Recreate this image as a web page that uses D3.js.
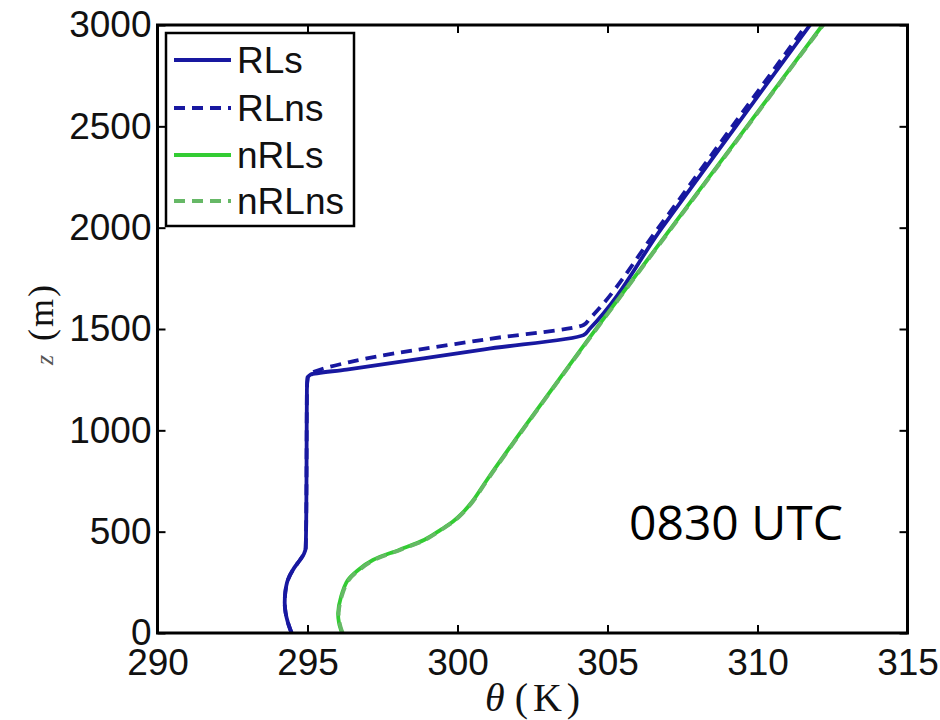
<!DOCTYPE html>
<html>
<head>
<meta charset="utf-8">
<script src="https://cdn.jsdelivr.net/npm/d3@7"></script>
<style>
  html, body { margin: 0; padding: 0; background: #ffffff; }
  svg { display: block; }
</style>
</head>
<body>
<svg id="chart" width="940" height="720"></svg>
<script>
// ---- Data ----
const seriesNames = ["RLs", "RLns", "nRLs", "nRLns"];

const zRLs     = [0, 50, 100, 150, 200, 260, 320, 360, 390, 420, 600, 900, 1200, 1260, 1275, 1300, 1400, 1470, 1500, 2000, 2500, 3000];
const thetaRLs = [294.47, 294.35, 294.27, 294.24, 294.26, 294.34, 294.55, 294.75, 294.88, 294.94, 294.96, 294.97, 294.98, 295.01, 295.1, 296.3, 300.9, 304.2, 304.4, 306.82, 309.28, 311.75];

const zRLns     = [0, 50, 100, 150, 200, 260, 320, 360, 390, 420, 600, 900, 1200, 1260, 1280, 1337, 1450, 1520, 1550, 2000, 2500, 3000];
const thetaRLns = [294.47, 294.35, 294.27, 294.24, 294.26, 294.34, 294.55, 294.75, 294.88, 294.94, 294.96, 294.97, 294.98, 295.0, 295.1, 296.4, 301.0, 304.2, 304.4, 306.7, 309.16, 311.63];

const zNRLs     = [0, 50, 100, 180, 260, 310, 360, 410, 460, 510, 550, 590, 650, 755, 1000, 1445, 2000, 2500, 3000];
const thetaNRLs = [296.15, 296.05, 296.02, 296.12, 296.34, 296.68, 297.18, 298.05, 298.9, 299.45, 299.85, 300.15, 300.5, 300.98, 302.15, 304.34, 307.13, 309.65, 312.17];

const zNRLns     = [0, 50, 100, 180, 260, 310, 360, 410, 460, 510, 550, 590, 650, 755, 1000, 1445, 2000, 2500, 3000];
const thetaNRLns = [296.17, 296.07, 296.04, 296.14, 296.37, 296.72, 297.22, 298.09, 298.93, 299.47, 299.87, 300.17, 300.52, 301.0, 302.17, 304.36, 307.15, 309.67, 312.19];

const xTicks = [290, 295, 300, 305, 310, 315];
const yTicks = [0, 500, 1000, 1500, 2000, 2500, 3000];
const annotation = "0830 UTC";

// ---- Layout ----
const svg = d3.select("#chart");
const L = 157.5, R = 907.5, T = 25, B = 633;
const x = d3.scaleLinear().domain([290, 315]).range([L, R]);
const y = d3.scaleLinear().domain([0, 3000]).range([B, T]);

const blue = "#1818a0";
const green = "#33cc33";
const greenDash = "#66b866";

const series = [
  { name: seriesNames[0], z: zRLs,  t: thetaRLs,  color: blue,      dash: null,  curve: d3.curveMonotoneY },
  { name: seriesNames[1], z: zRLns, t: thetaRLns, color: blue,      dash: "11,7", curve: d3.curveMonotoneY },
  { name: seriesNames[2], z: zNRLs, t: thetaNRLs, color: green,     dash: null,  curve: d3.curveCatmullRom.alpha(0.5) },
  { name: seriesNames[3], z: zNRLns,t: thetaNRLns,color: greenDash, dash: "11,7", curve: d3.curveCatmullRom.alpha(0.5) }
];

svg.append("defs").append("clipPath").attr("id", "clip")
  .append("rect").attr("x", L).attr("y", T - 2).attr("width", R - L).attr("height", B - T + 2);

const plot = svg.append("g").attr("clip-path", "url(#clip)");
series.forEach(s => {
  const pts = s.z.map((z, i) => [s.t[i], z]);
  const line = d3.line().x(d => x(d[0])).y(d => y(d[1])).curve(s.curve);
  plot.append("path")
    .datum(pts)
    .attr("d", line)
    .attr("fill", "none")
    .attr("stroke", s.color)
    .attr("stroke-width", 3.8)
    .attr("stroke-dasharray", s.dash)
    .attr("stroke-linejoin", "round");
});

// ---- Axes (MATLAB box style, inward ticks on all sides) ----
const tickLen = 8;
const axisFont = "'Liberation Sans', Arial, sans-serif";

const xAxisB = d3.axisBottom(x).tickValues(xTicks).tickSizeInner(-tickLen).tickSizeOuter(0).tickFormat(d3.format("d"));
const xAxisT = d3.axisTop(x).tickValues(xTicks).tickSizeInner(-tickLen).tickSizeOuter(0).tickFormat("");
const yAxisL = d3.axisLeft(y).tickValues(yTicks).tickSizeInner(-tickLen).tickSizeOuter(0).tickFormat(d3.format("d"));
const yAxisR = d3.axisRight(y).tickValues(yTicks).tickSizeInner(-tickLen).tickSizeOuter(0).tickFormat("");

function styleAxis(g) {
  g.select(".domain").remove();
  g.selectAll(".tick line").attr("stroke", "#000").attr("stroke-width", 2);
  g.selectAll(".tick text").attr("fill", "#111").attr("font-family", axisFont).attr("font-size", 37);
}

const gxb = svg.append("g").attr("transform", `translate(0,${B})`).call(xAxisB).call(styleAxis);
gxb.selectAll(".tick text").attr("y", 42).attr("dy", 0);
svg.append("g").attr("transform", `translate(0,${T})`).call(xAxisT).call(styleAxis);
const gyl = svg.append("g").attr("transform", `translate(${L},0)`).call(yAxisL).call(styleAxis);
gyl.selectAll(".tick text").attr("x", -6).attr("dy", "0.32em");
svg.append("g").attr("transform", `translate(${R},0)`).call(yAxisR).call(styleAxis);

svg.append("rect")
  .attr("x", L).attr("y", T).attr("width", R - L).attr("height", B - T)
  .attr("fill", "none").attr("stroke", "#000").attr("stroke-width", 3);

// ---- Axis labels ----
const xl = svg.append("text")
  .attr("x", 485).attr("y", 711)
  .attr("text-anchor", "start")
  .attr("font-family", "'Liberation Serif', 'Times New Roman', serif")
  .attr("font-size", 40)
  .attr("fill", "#111");
xl.append("tspan").attr("font-style", "italic").text("θ");
xl.append("tspan").attr("dx", 10).attr("letter-spacing", 5).text("(K)");

const yl = svg.append("text")
  .attr("transform", "translate(53,324) rotate(-90)")
  .attr("text-anchor", "middle")
  .attr("font-family", "'Liberation Serif', 'Times New Roman', serif")
  .attr("font-size", 36)
  .attr("fill", "#111");
yl.append("tspan").attr("font-style", "italic").attr("font-size", 26).attr("fill", "#555").text("z");
yl.append("tspan").attr("dx", 14).attr("letter-spacing", 2).text("(m)");

// ---- Legend ----
const lg = svg.append("g");
lg.append("rect")
  .attr("x", 166).attr("y", 33).attr("width", 188).attr("height", 193)
  .attr("fill", "#fff").attr("stroke", "#000").attr("stroke-width", 2.5);
const legY = [60, 108, 155, 201];
series.forEach((s, i) => {
  lg.append("line")
    .attr("x1", 174).attr("x2", 231).attr("y1", legY[i]).attr("y2", legY[i])
    .attr("stroke", s.color).attr("stroke-width", 4)
    .attr("stroke-dasharray", s.dash);
  lg.append("text")
    .attr("x", 237).attr("y", legY[i]).attr("dy", "0.36em")
    .attr("font-family", axisFont).attr("font-size", 37).attr("fill", "#111")
    .text(s.name);
});

// ---- Annotation ----
svg.append("text")
  .attr("x", 629).attr("y", 540)
  .attr("font-family", "'Open Sans', 'Noto Sans', sans-serif")
  .attr("font-size", 48)
  .attr("fill", "#000")
  .text(annotation);
</script>
</body>
</html>
